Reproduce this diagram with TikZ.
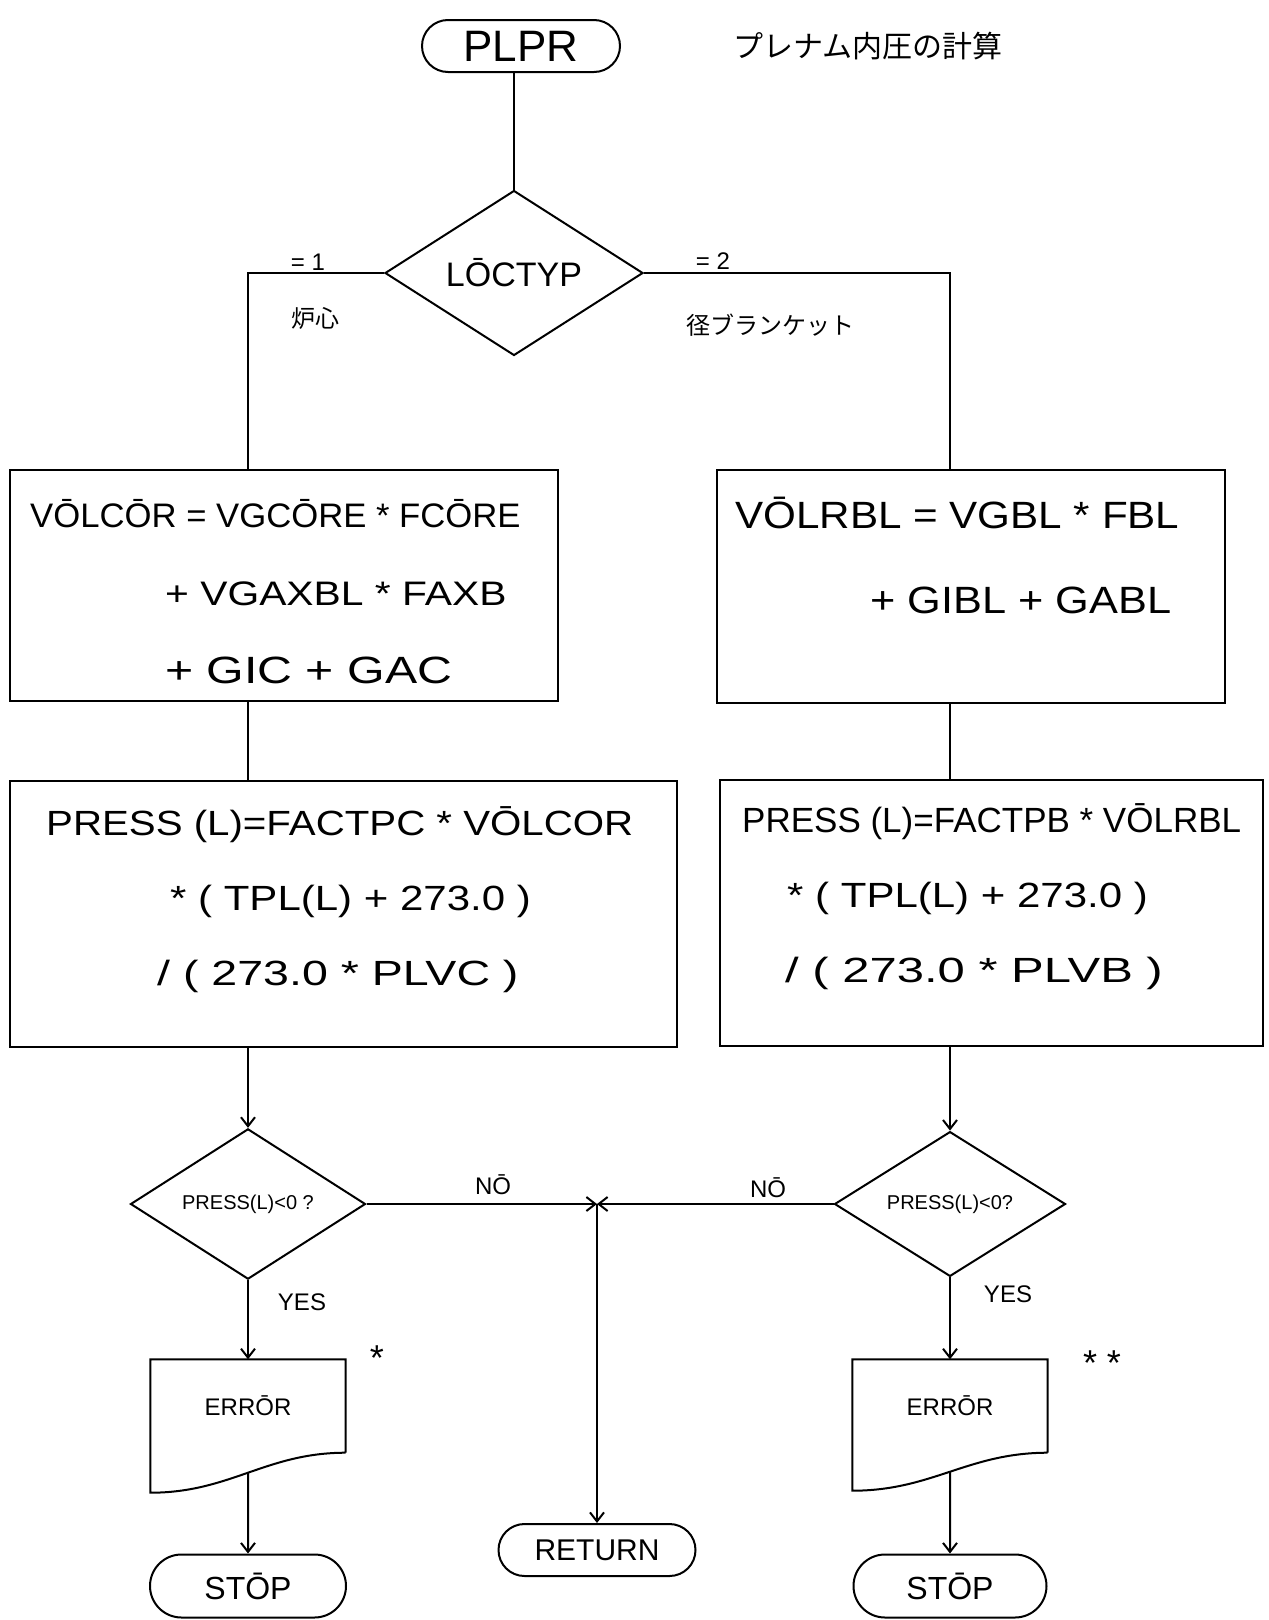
\documentclass[tikz,border=0pt]{standalone}
\usepackage{fontspec}
\setmainfont{Liberation Sans}
\newfontfamily\jpfont{Noto Sans CJK JP}
\usetikzlibrary{positioning,arrows.meta,calc,shapes.geometric,shapes.misc}
\tikzset{
  base/.style  ={draw, line width=2pt, inner sep=0pt},
  term/.style  ={base, rounded rectangle, minimum height=52pt},
  proc/.style  ={base, rectangle},
  dec/.style   ={base, diamond},
  doc/.style   ={rectangle, minimum width=195pt, minimum height=93pt, inner sep=0pt,
                 font=\fontsize{24}{28}\selectfont},
  txt/.style   ={align=left, inner sep=0pt, anchor=west},
  ln/.style    ={line width=2pt},
  arr/.style   ={-{Straight Barb[length=9pt, width=14pt]}, line width=2pt},
  lbl/.style   ={font=\fontsize{24}{28}\selectfont, inner sep=1pt},
  jlbl/.style  ={font=\jpfont\fontsize{24}{28}\selectfont, inner sep=1pt},
}
\newcommand{\fsBox}{\fontsize{34}{78}\selectfont}
\newcommand{\fsRbl}{\fontsize{38}{85}\selectfont}
\newcommand{\fsPress}{\fontsize{35}{75}\selectfont}
\newcommand{\strtxt}[2]{{\addfontfeature{FakeStretch=#1}#2}}

\begin{document}
\begin{tikzpicture}[x=1pt, y=-1pt]
\useasboundingbox (0,0) rectangle (1269,1620);

% start and branch
\node[term, minimum width=198pt, font=\fontsize{44}{50}\selectfont] (plpr) at (521,46) {PLPR};
\node[font=\jpfont\fontsize{30}{36}\selectfont] (title) at (868,46) {プレナム内圧の計算};
\node[dec, minimum width=258pt, minimum height=165pt, font=\fontsize{34}{40}\selectfont] (loc) at (514,273) {LŌCTYP};

% volume boxes
\node[proc, minimum width=548pt, minimum height=231pt] (vcor) at (284,585) {};
\node[txt, font=\fsBox] (vcortxt) at (30,592)
   {\strtxt{1.02}{VŌLCŌR = VGCŌRE * FCŌRE}\\
    \hspace*{135pt}\strtxt{1.2}{+ VGAXBL * FAXB}\\
    \hspace*{135pt}{\fontsize{38}{78}\selectfont\strtxt{1.27}{+ GIC + GAC}}};
\node[proc, minimum width=508pt, minimum height=233pt] (vrbl) at (971,586) {};
\node[txt, font=\fsRbl] (vrbltxt) at (735,555)
   {\strtxt{1.11}{VŌLRBL = VGBL * FBL}\\ \hspace*{135pt}\strtxt{1.14}{+ GIBL + GABL}};

% pressure boxes
\node[proc, minimum width=667pt, minimum height=266pt] (presc) at (343.5,914) {};
\node[txt, font=\fsPress] (presctxt) at (46,900)
   {\strtxt{1.15}{PRESS (L)=FACTPC * VŌLCOR}\\
    \hspace*{124pt}\strtxt{1.2}{* ( TPL(L) + 273.0 )}\\
    \hspace*{111pt}\strtxt{1.33}{/ ( 273.0 * PLVC )}};
\node[proc, minimum width=543pt, minimum height=266pt] (presb) at (991.5,913) {};
\node[txt, font=\fsPress] (presbtxt) at (742,897)
   {PRESS (L)=FACTPB * VŌLRBL\\
    \hspace*{45pt}\strtxt{1.2}{* ( TPL(L) + 273.0 )}\\
    \hspace*{43pt}\strtxt{1.4}{/ ( 273.0 * PLVB )}};

% checks
\node[dec, minimum width=235pt, minimum height=87pt, font=\fontsize{20}{24}\selectfont] (pc1) at (248,1204) {PRESS(L)<0 ?};
\node[dec, minimum width=231pt, minimum height=89pt, font=\fontsize{20}{24}\selectfont] (pc2) at (950,1204) {PRESS(L)<0?};
\coordinate (jn) at (597,1204);

% errors and ends
\node[doc] (err1) at (248,1406) {ERRŌR};
\node[doc] (err2) at (950,1406) {ERRŌR};
\draw[ln] (err1.south east) -- (err1.north east) -- (err1.north west) -- ($(err1.south west)+(0,40)$)
   .. controls ($(err1.south west)+(80,40)$) and ($(err1.south east)+(-80,0)$) .. (err1.south east)
   coordinate[pos=0.5] (err1b);
\draw[ln] (err2.south east) -- (err2.north east) -- (err2.north west) -- ($(err2.south west)+(0,38)$)
   .. controls ($(err2.south west)+(80,38)$) and ($(err2.south east)+(-80,0)$) .. (err2.south east)
   coordinate[pos=0.5] (err2b);
\node[term, minimum width=196pt, minimum height=63pt, font=\fontsize{32}{38}\selectfont] (stop1) at (248,1586) {STŌP};
\node[term, minimum width=193pt, minimum height=63pt, font=\fontsize{32}{38}\selectfont] (stop2) at (950,1586) {STŌP};
\node[term, minimum width=197pt, font=\fontsize{30}{36}\selectfont] (ret) at (597,1550) {RETURN};

% labels
\node[lbl] (eq1) at (308,262) {= 1};
\node[lbl] (eq2) at (713,261) {= 2};
\node[jlbl] (core) at (315,318) {炉心};
\node[jlbl] (rblk) at (770,325) {径ブランケット};
\node[lbl] (no1) at (493,1185) {NŌ};
\node[lbl] (no2) at (768,1188) {NŌ};
\node[lbl] (yes1) at (302,1302) {YES};
\node[lbl] (yes2) at (1008,1294) {YES};
\node[lbl, font=\fontsize{36}{40}\selectfont] (ast1) at (377,1358) {*};
\node[lbl, font=\fontsize{36}{40}\selectfont] (ast2) at (1102,1363) {* *};

% connectors
\draw[ln] (plpr.south -| loc.north) -- (loc.north);
\draw[ln] (loc.west) -| (vcor.north -| pc1);
\draw[ln] (loc.east) -| (vrbl.north -| pc2);
\draw[ln] (vcor.south -| pc1) -- (presc.north -| pc1);
\draw[ln] (vrbl.south -| pc2) -- (presb.north -| pc2);
\draw[arr] (presc.south -| pc1) -- (pc1.north);
\draw[arr] (presb.south -| pc2) -- (pc2.north);
\draw[arr] (pc1.east) -- (jn);
\draw[arr] (pc2.west) -- (jn);
\draw[arr] (jn) -- (ret.north);
\draw[arr] (pc1.south) -- (err1.north);
\draw[arr] (pc2.south) -- (err2.north);
\draw[arr] (err1b) -- (stop1.north);
\draw[arr] (err2b) -- (stop2.north);
\end{tikzpicture}
\end{document}
